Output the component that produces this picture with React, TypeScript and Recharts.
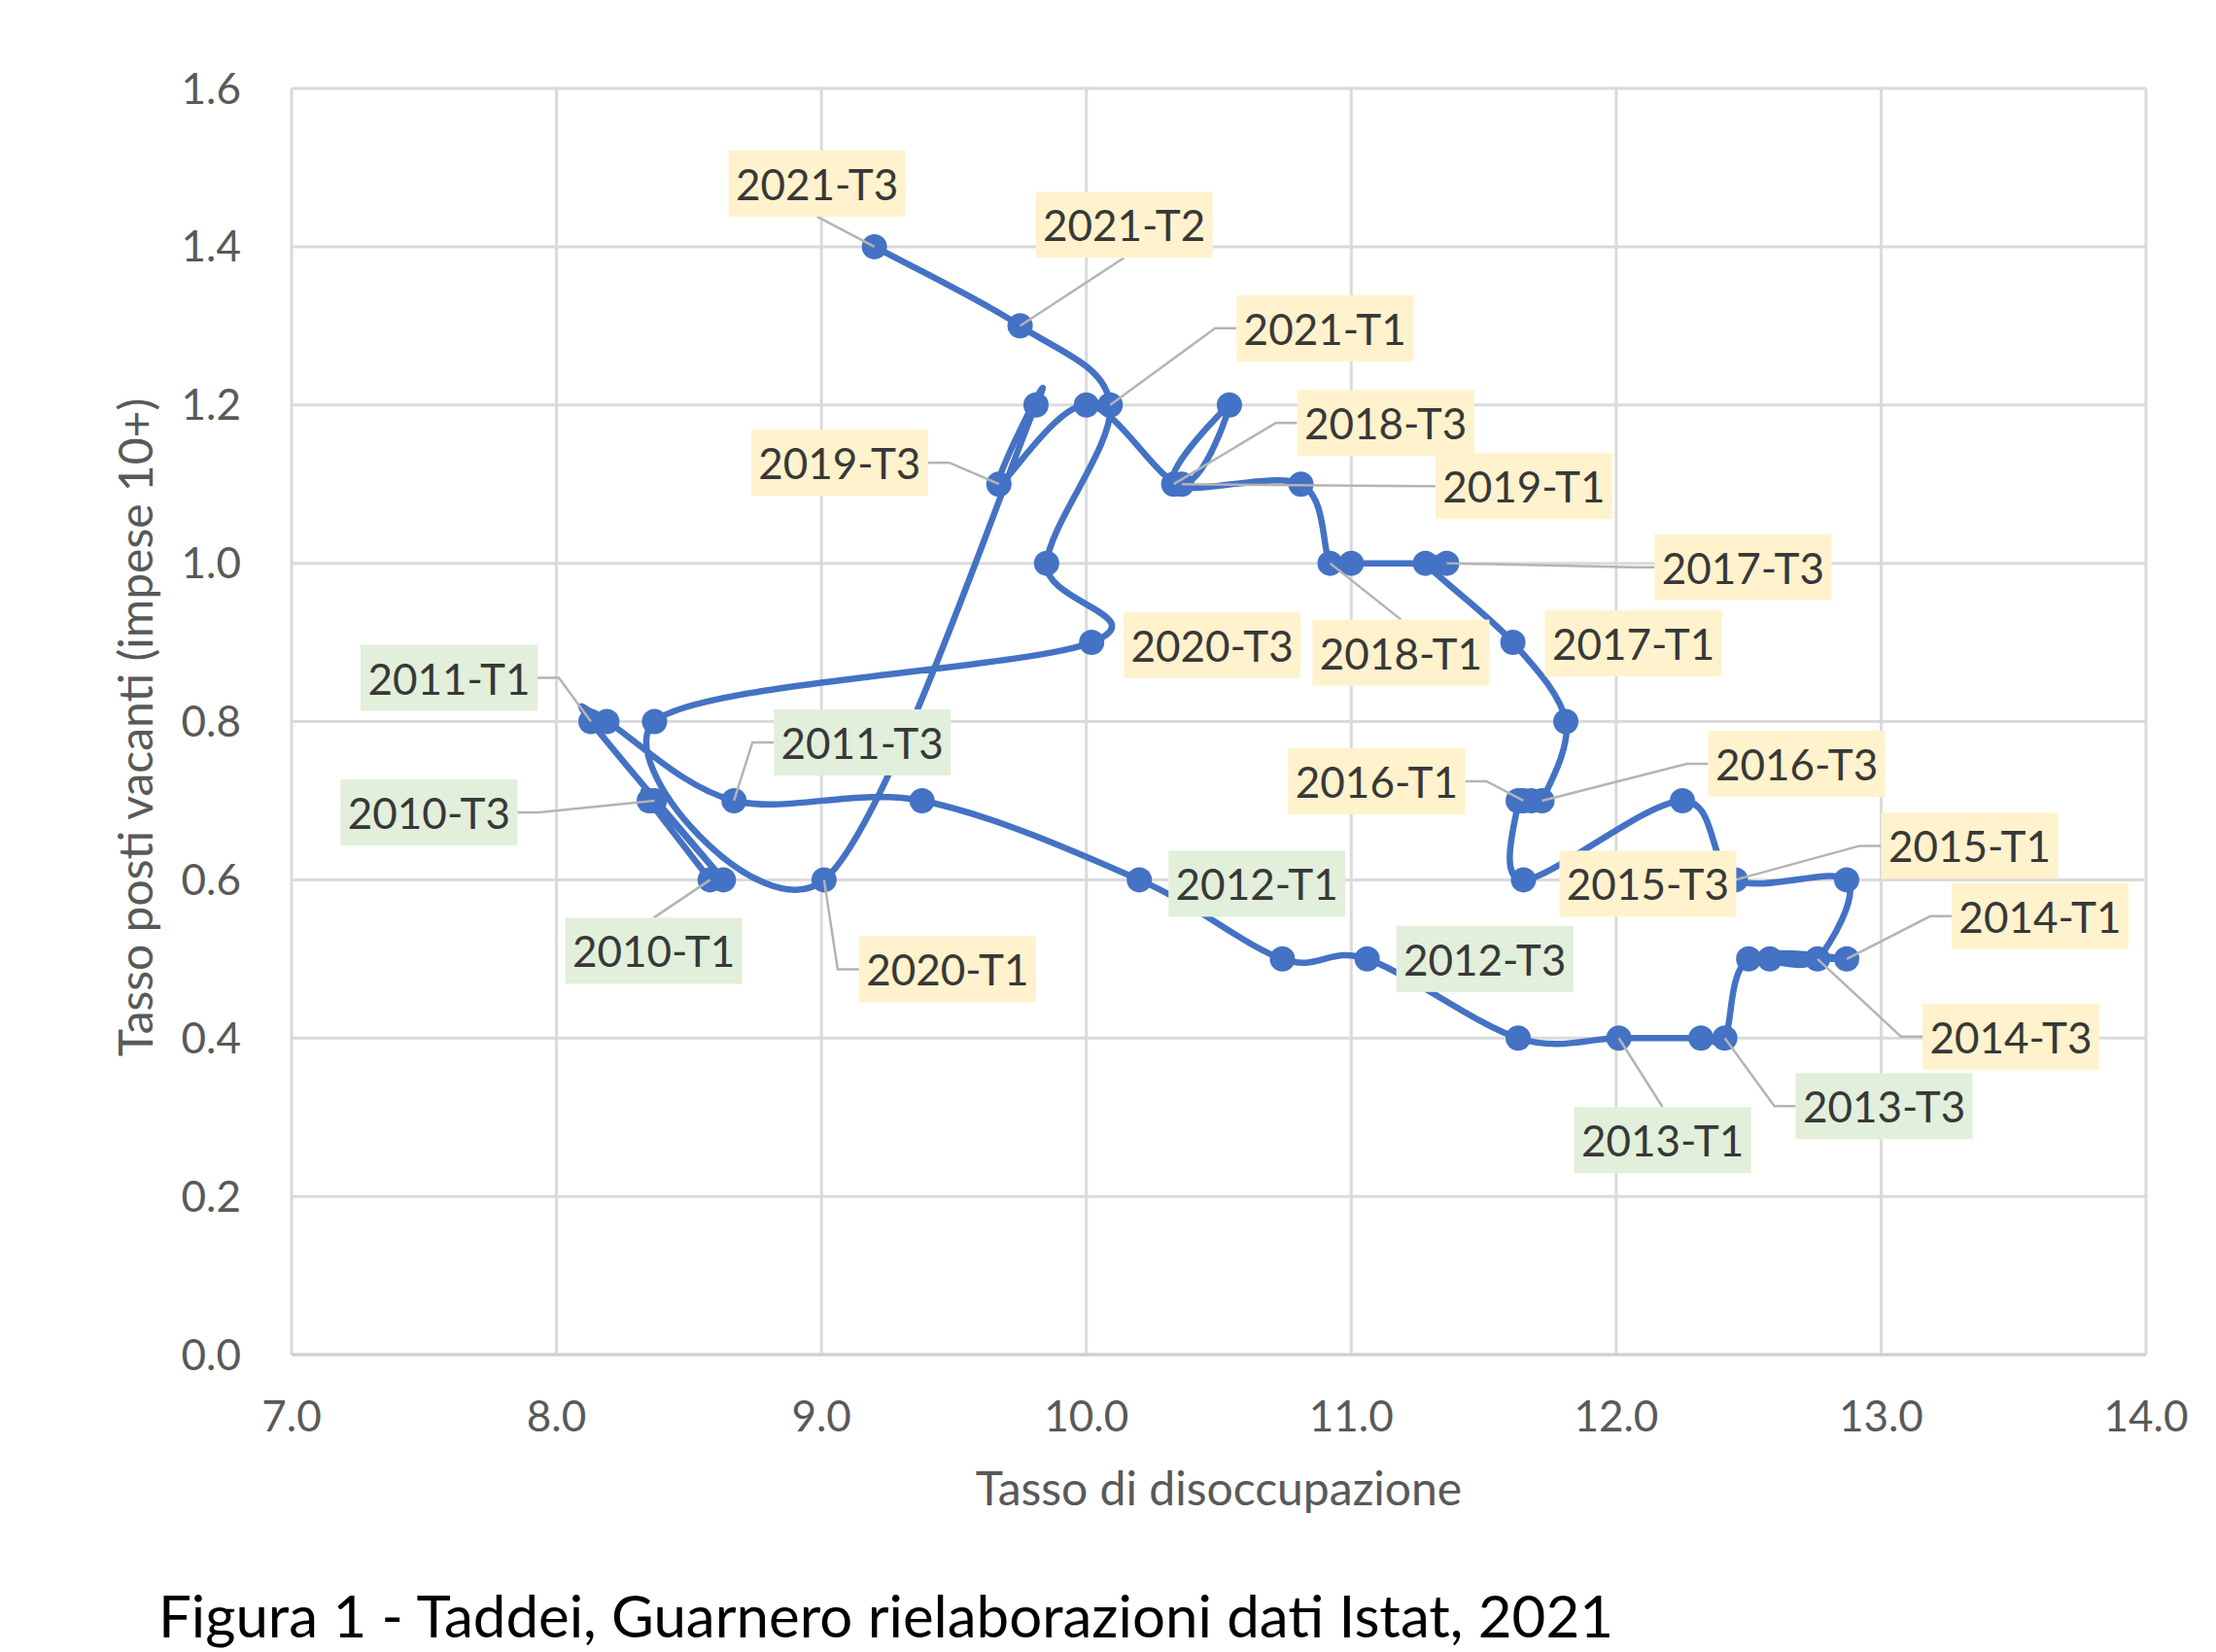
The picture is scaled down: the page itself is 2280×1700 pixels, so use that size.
import React from "react";
import { LineChart, Line, XAxis, YAxis, CartesianGrid, LabelList, Label } from "recharts";

// quarters, from 2010-T1 to 2021-T3
const periods = [
  "2010-T1", "2010-T2", "2010-T3", "2010-T4",
  "2011-T1", "2011-T2", "2011-T3", "2011-T4",
  "2012-T1", "2012-T2", "2012-T3", "2012-T4",
  "2013-T1", "2013-T2", "2013-T3", "2013-T4",
  "2014-T1", "2014-T2", "2014-T3", "2014-T4",
  "2015-T1", "2015-T2", "2015-T3", "2015-T4",
  "2016-T1", "2016-T2", "2016-T3", "2016-T4",
  "2017-T1", "2017-T2", "2017-T3", "2017-T4",
  "2018-T1", "2018-T2", "2018-T3", "2018-T4",
  "2019-T1", "2019-T2", "2019-T3", "2019-T4",
  "2020-T1", "2020-T2", "2020-T3", "2020-T4",
  "2021-T1", "2021-T2", "2021-T3",
];

// tasso di disoccupazione
const unemployment = [
  8.58, 8.35, 8.37, 8.63,
  8.13, 8.19, 8.67, 9.38,
  10.2, 10.74, 11.06, 11.63,
  12.01, 12.32, 12.41, 12.5,
  12.87, 12.58, 12.76, 12.87,
  12.45, 12.25, 11.65, 11.63,
  11.65, 11.68, 11.72, 11.81,
  11.61, 11.28, 11.36, 11.0,
  10.92, 10.81, 10.33, 10.54,
  10.36, 10.0, 9.67, 9.81,
  9.01, 8.37, 10.02, 9.85,
  10.09, 9.75, 9.2,
];

// tasso posti vacanti (imprese 10+)
const vacancies = [
  0.6, 0.7, 0.7, 0.6,
  0.8, 0.8, 0.7, 0.7,
  0.6, 0.5, 0.5, 0.4,
  0.4, 0.4, 0.4, 0.5,
  0.5, 0.5, 0.5, 0.6,
  0.6, 0.7, 0.6, 0.7,
  0.7, 0.7, 0.7, 0.8,
  0.9, 1.0, 1.0, 1.0,
  1.0, 1.1, 1.1, 1.2,
  1.1, 1.2, 1.1, 1.2,
  0.6, 0.8, 0.9, 1.0,
  1.2, 1.3, 1.4,
];

const labelled = [
  "2010-T1", "2010-T3", "2011-T1", "2011-T3", "2012-T1", "2012-T3",
  "2013-T1", "2013-T3", "2014-T1", "2014-T3", "2015-T1", "2015-T3",
  "2016-T1", "2016-T3", "2017-T1", "2017-T3", "2018-T1", "2018-T3",
  "2019-T1", "2019-T3", "2020-T1", "2020-T3", "2021-T1", "2021-T2", "2021-T3",
];

const xTicks = [7, 8, 9, 10, 11, 12, 13, 14];
const yTicks = [0, 0.2, 0.4, 0.6, 0.8, 1.0, 1.2, 1.4, 1.6];

const data = periods.map((p, i) => ({
  period: p,
  u: unemployment[i],
  v: vacancies[i],
  label: labelled.includes(p) ? p : undefined,
}));

// callout placement: box centre offset from the point, and side the leader leaves from
const callouts: Record<string, { dx: number; dy: number; side: string }> = {
  "2021-T3": { dx: -59, dy: -65, side: "b" },
  "2021-T2": { dx: 107, dy: -104, side: "b" },
  "2021-T1": { dx: 221, dy: -79, side: "l" },
  "2018-T3": { dx: 218, dy: -63, side: "l" },
  "2019-T1": { dx: 352, dy: 2, side: "l" },
  "2019-T3": { dx: -164, dy: -22, side: "r" },
  "2017-T3": { dx: 305, dy: 4, side: "l" },
  "2018-T1": { dx: 73, dy: 92, side: "t" },
  "2017-T1": { dx: 124, dy: 1, side: "n" },
  "2020-T3": { dx: 124, dy: 3, side: "n" },
  "2011-T1": { dx: -146, dy: -45, side: "r" },
  "2011-T3": { dx: 132, dy: -60, side: "l" },
  "2016-T1": { dx: -151, dy: -20, side: "r" },
  "2016-T3": { dx: 262, dy: -38, side: "l" },
  "2010-T3": { dx: -232, dy: 12, side: "r" },
  "2015-T1": { dx: 241, dy: -35, side: "l" },
  "2015-T3": { dx: 128, dy: 4, side: "n" },
  "2012-T1": { dx: 121, dy: 4, side: "n" },
  "2014-T1": { dx: 199, dy: -44, side: "l" },
  "2010-T1": { dx: -58, dy: 73, side: "t" },
  "2020-T1": { dx: 127, dy: 92, side: "l" },
  "2012-T3": { dx: 121, dy: 0, side: "n" },
  "2014-T3": { dx: 199, dy: 80, side: "l" },
  "2013-T3": { dx: 164, dy: 70, side: "l" },
  "2013-T1": { dx: 45, dy: 105, side: "t" },
};

const FONT = "Lato, 'Open Sans', sans-serif";
const BLUE = "#4472C4";

// Excel-like smoothed line (uniform Catmull-Rom through every point)
function excelSmooth(context: any) {
  let pts: number[][] = [];
  return {
    areaStart() {},
    areaEnd() {},
    lineStart() {
      pts = [];
    },
    point(x: number, y: number) {
      pts.push([+x, +y]);
    },
    lineEnd() {
      if (!pts.length) return;
      context.moveTo(pts[0][0], pts[0][1]);
      for (let i = 0; i < pts.length - 1; i++) {
        const p0 = pts[i - 1] || pts[i];
        const p1 = pts[i];
        const p2 = pts[i + 1];
        const p3 = pts[i + 2] || p2;
        context.bezierCurveTo(
          p1[0] + (p2[0] - p0[0]) / 6,
          p1[1] + (p2[1] - p0[1]) / 6,
          p2[0] - (p3[0] - p1[0]) / 6,
          p2[1] - (p3[1] - p1[1]) / 6,
          p2[0],
          p2[1]
        );
      }
    },
  };
}

function Callout(props: any) {
  const { value } = props;
  if (!value || !callouts[value]) return null;
  const px = props.x ?? props.viewBox?.x;
  const py = props.y ?? props.viewBox?.y;
  const c = callouts[value];
  const w = 182, h = 68;
  const bx = px + c.dx, by = py + c.dy;
  const green = value < "2014";
  let leader = "";
  if (c.side === "l") leader = `M${bx - w / 2},${by} L${bx - w / 2 - 22},${by} L${px},${py}`;
  if (c.side === "r") leader = `M${bx + w / 2},${by} L${bx + w / 2 + 22},${by} L${px},${py}`;
  if (c.side === "t") leader = `M${bx},${by - h / 2} L${px},${py}`;
  if (c.side === "b") leader = `M${bx},${by + h / 2} L${px},${py}`;
  return (
    <g>
      {leader && <path d={leader} fill="none" stroke="#b4b4b4" strokeWidth={2.5} />}
      <rect x={bx - w / 2} y={by - h / 2} width={w} height={h} fill={green ? "#E2EFDA" : "#FFF2CC"} />
      <text x={bx} y={by} textAnchor="middle" dominantBaseline="central" fontFamily={FONT} fontSize={44} fill="#383838">
        {value}
      </text>
    </g>
  );
}

export default function App() {
  return (
    <div style={{ position: "absolute", left: 0, top: 0, width: 2280, height: 1700, background: "#fff" }}>
      <LineChart width={2280} height={1600} data={data} margin={{ top: 91, right: 72, left: 0, bottom: 86 }}>
        <CartesianGrid stroke="#dadada" strokeWidth={3} horizontalValues={yTicks} verticalValues={xTicks} />
        <XAxis
          type="number"
          dataKey="u"
          domain={[7, 14]}
          ticks={xTicks}
          tickFormatter={(t: number) => t.toFixed(1)}
          tick={{ fontFamily: FONT, fontSize: 44, fill: "#595959" }}
          tickLine={false}
          axisLine={{ stroke: "#d0d0d0", strokeWidth: 3 }}
          tickMargin={42}
          height={120}
        >
          <Label
            content={(p: any) => (
              <text x={p.viewBox.x + p.viewBox.width / 2} y={p.viewBox.y + 136} textAnchor="middle" dominantBaseline="central" fontFamily={FONT} fontSize={48} fill="#595959">
                Tasso di disoccupazione
              </text>
            )}
          />
        </XAxis>
        <YAxis
          type="number"
          dataKey="v"
          domain={[0, 1.6]}
          ticks={yTicks}
          tickFormatter={(t: number) => t.toFixed(1)}
          tick={{ fontFamily: FONT, fontSize: 44, fill: "#595959" }}
          tickLine={false}
          axisLine={false}
          tickMargin={46}
          width={300}
        >
          <Label
            content={(p: any) => {
              const cx = p.viewBox.x + 138;
              const cy = p.viewBox.y + p.viewBox.height / 2 + 6;
              return (
                <text x={cx} y={cy} transform={`rotate(-90 ${cx} ${cy})`} textAnchor="middle" dominantBaseline="central" fontFamily={FONT} fontSize={48} fill="#595959">
                  Tasso posti vacanti (impese 10+)
                </text>
              );
            }}
          />
        </YAxis>
        <Line
          dataKey="v"
          type={excelSmooth as any}
          stroke={BLUE}
          strokeWidth={6.5}
          dot={{ r: 13, fill: BLUE, stroke: BLUE, strokeWidth: 0 }}
          activeDot={false}
          isAnimationActive={false}
        >
          <LabelList dataKey="label" content={<Callout />} />
        </Line>
      </LineChart>
      <div style={{ position: "absolute", left: 163, top: 1626, fontFamily: FONT, fontSize: 60, color: "#000", whiteSpace: "nowrap" }}>
        Figura 1 - Taddei, Guarnero rielaborazioni dati Istat, 2021
      </div>
    </div>
  );
}
